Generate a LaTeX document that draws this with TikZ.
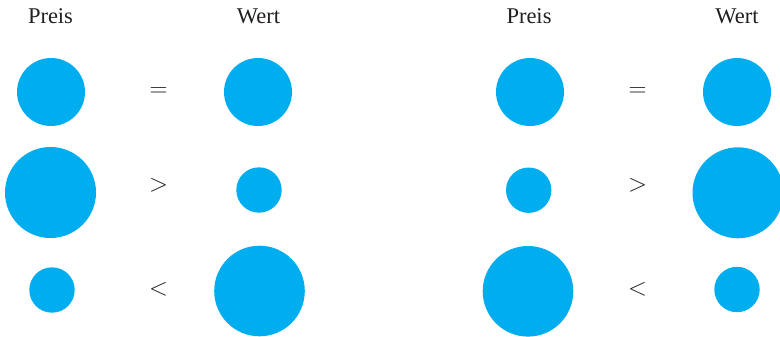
\documentclass[tikz,border=0pt]{standalone}
\usepackage{fontspec}
\setmainfont{Liberation Serif}
\begin{document}
\begin{tikzpicture}[x=1pt,y=-1pt,
  dot/.style={fill=dotcol,draw=none},
  lbl/.style={text=txtcol,font=\fontsize{22.5}{26}\selectfont,anchor=base,inner sep=0pt},
  rel/.style={text=txtcol,font=\fontsize{24}{28}\selectfont,inner sep=0pt}]
\definecolor{dotcol}{HTML}{00AEEF}
\definecolor{txtcol}{HTML}{231F20}
\useasboundingbox (0,0) rectangle (780,337);
% left group
\node[lbl] (pl) at (50.5,24) {Preis};
\node[lbl] (wl) at (258.5,24) {Wert};
\fill[dot] (51,92) circle (34);
\fill[dot] (258,92) circle (34);
\fill[dot] (50.5,192.5) circle (45.5);
\fill[dot] (259,190) circle (22.7);
\fill[dot] (52,290) circle (22.7);
\fill[dot] (259.5,291) circle (45.3);
\node[rel] (e1) at (158.7,92.2) {$=$};
\node[rel] (g1) at (158.7,185.7) {$>$};
\node[rel] (s1) at (158.7,289.5) {$<$};
% right group
\node[lbl] (pr) at (529,24) {Preis};
\node[lbl] (wr) at (737,24) {Wert};
\fill[dot] (530,92) circle (34);
\fill[dot] (737,92) circle (34);
\fill[dot] (528.7,190.2) circle (22.7);
\fill[dot] (738,192.8) circle (45.5);
\fill[dot] (528,291.3) circle (45.3);
\fill[dot] (737,289.5) circle (22.7);
\node[rel] (e2) at (637.5,92.2) {$=$};
\node[rel] (g2) at (637.5,185.7) {$>$};
\node[rel] (s2) at (637.5,289.5) {$<$};
\end{tikzpicture}
\end{document}
